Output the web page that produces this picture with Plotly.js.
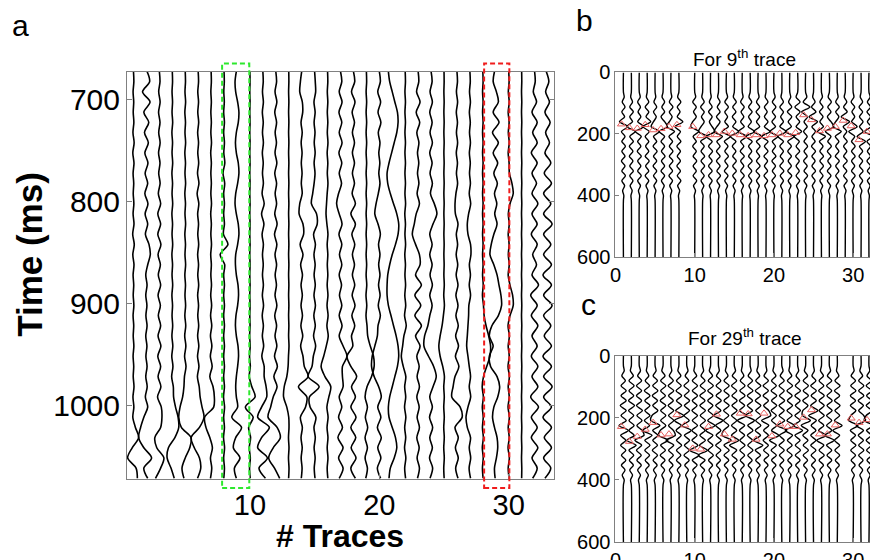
<!DOCTYPE html>
<html><head><meta charset="utf-8">
<script src="https://cdn.plot.ly/plotly-3.0.1.min.js"></script>
<style>html,body{margin:0;padding:0;background:#fff}#chart{width:870px;height:560px}</style>
</head><body><div id="chart"></div>
<script>
// ---------- Panel a: 33 traces, samples every 10 ms (offsets in 1/100 trace spacing)
const timeA = [672,682,692,702,712,722,732,742,752,762,772,782,792,802,812,822,832,842,852,862,872,882,892,902,912,922,932,942,952,962,972,982,992,1002,1012,1022,1032,1042,1052,1062,1072];
const tracesA = [
[0,3,-3,2,-2,3,-4,5,-5,4, -3,2,-2,3,-3,4,-6,6,-5,4, -3,2,-2,3,-3,2,-2,3,-3,2, -2,4,-4,3,-5,15,40,-10,-45,20,30],
[5,25,-30,28,-20,18,-15,15,-12,12, -10,10,-12,12,-10,10,-8,20,30,10, -5,5,-5,4,-4,5,-5,4,-4,5, -5,6,-8,10,-20,-45,-60,-20,40,-20,10],
[0,5,-5,6,-6,5,-5,6,-6,5, -5,6,-8,10,-12,10,-12,12,-10,8, -8,10,-10,8,-8,10,-10,12,-12,10, -10,12,-14,15,20,10,-35,-20,35,10,-30],
[0,2,-2,2,-2,3,-3,2,-2,3, -3,2,-2,3,-3,2,-2,3,-3,2, -2,3,-3,2,-2,3,-3,4,-4,5, -5,8,10,25,45,50,20,-30,-40,-10,15],
[0,2,-2,3,-3,2,-2,3,-3,2, -2,3,-3,2,-2,3,-3,2,-2,3, -3,2,-2,3,-3,4,-4,5,-5,6, -6,-10,-20,-40,-50,-30,45,35,0,-25,-10],
[0,3,-3,3,-3,4,-4,3,-3,4, -5,6,-8,5,-4,3,-3,4,-4,3, -3,4,-4,3,-3,4,-4,5,-5,6, -6,8,15,30,45,10,-55,-30,10,20,-5],
[0,2,-2,2,-2,2,-2,3,-3,2, -2,2,-2,3,-3,2,-2,3,-3,2, -2,3,-3,4,-4,5,-5,6,-6,8, -10,15,25,20,-50,-40,-10,10,-5,5,-5],
[0,2,-2,2,-3,3,-3,3,-2,6, -8,5,-3,3,-3,3,-5,30,-30,5, -3,3,-3,3,-3,3,-3,3,-3,3, -3,3,-4,4,-3,3,-4,4,-3,3,-2],
[-5,-15,-10,5,15,10,-5,-12,-5,10, 15,5,-10,-15,-5,10,15,5,-10,-12, -5,8,12,5,-8,-12,-5,8,12,5, -5,-10,-5,5,-40,35,-10,-28,23,-20,-5],
[0,1,-1,1,-1,1,-1,1,-1,1, -1,1,-1,1,-1,1,-1,1,-1,1, -1,1,-1,1,-1,1,-2,2,-3,3, -5,15,40,-35,25,-10,5,-5,3,-3,2],
[0,3,-3,4,-4,3,-3,4,-4,3, -3,4,-6,10,-10,8,-6,4,-3,3, -3,4,-4,5,-5,4,-4,6,-8,10, 10,25,30,-10,-40,50,-10,-40,35,-30,20],
[0,6,-6,8,-8,6,-5,5,-6,8, -8,6,-5,6,-8,10,-10,8,-6,6, -5,5,-6,8,-8,6,-6,8,-10,12, -15,10,-20,-40,-60,10,35,-20,-55,-10,30],
[0,1,-1,1,-1,1,-1,1,-1,1, -1,1,-1,1,-1,1,-1,1,-1,1, -1,1,-1,1,-1,1,-1,2,-2,-5, -15,-35,-40,-15,0,2,-2,2,-2,2,-1],
[0,-10,-15,5,8,-5,4,-4,3,-3, 3,-3,4,-15,-20,10,15,-12,10,-8, 6,-5,5,-5,6,-6,8,-8,10,20, 50,-25,40,30,-10,5,-5,4,-4,3,-3],
[0,5,8,-5,4,-4,3,-3,4,-4, 3,-4,-15,-25,15,20,-8,6,-5,4, -4,5,-5,6,-6,5,-8,8,-10,-20, -50,35,-40,-35,10,-5,5,-4,4,-3,3],
[0,2,-2,2,-2,2,-2,3,-3,2, -2,3,-3,-8,-12,-5,3,-3,2,-2, 2,-3,3,-4,4,-5,5,-10,-30,-50, -20,25,10,-5,4,-4,3,-3,3,-3,2],
[0,10,-10,12,-12,10,-10,12,-12,10, -10,8,-15,-30,-10,12,-12,10,-8,10, -10,8,-8,10,-10,12,-10,20,50,15, 15,20,-10,10,-15,15,-20,20,-15,20,-10],
[0,10,-15,12,-10,8,-8,8,-8,8, -8,8,-10,15,-20,15,-12,10,-8,8, -8,10,-10,12,-12,10,-15,-5,-50,-20, 25,-15,15,-20,20,-20,18,-18,20,-20,15],
[0,2,-2,2,-2,2,-2,2,-2,2, -2,2,-2,2,-2,2,-2,2,-2,2, -2,3,-3,3,-3,5,10,30,55,60, 40,5,-10,8,-8,10,-10,8,-10,8,-5],
[0,8,-12,10,-10,12,-8,5,-4,4, -4,5,-8,-25,-35,-10,8,-6,5,-5, 5,-6,6,-8,8,-10,-15,-35,-55,-60, -40,-5,15,-12,12,-15,15,-12,12,-15,10],
[-30,-20,0,20,40,45,35,15,-5,-25, -40,-35,-15,10,35,50,45,25,0,-20, -35,-40,-40,-30,-10,10,30,45,50,40, 20,0,-20,-30,-25,0,25,35,15,-15,-25],
[0,2,-2,2,-2,2,-2,2,-2,2, -2,2,-2,3,-3,2,-2,3,-3,2, -2,3,-3,4,-5,8,-10,-20,-30,-15, 5,-4,4,-5,5,-4,4,-5,5,-4,3],
[0,5,-12,15,-15,12,-10,6,-5,5, -5,6,-8,10,-15,-30,-45,-20,10,15, -20,25,-25,20,-25,25,-20,15,-10,8, -8,10,-10,8,-8,10,-10,8,-8,10,-5],
[0,8,-8,10,-10,8,-8,10,-10,8, -8,10,-5,25,45,15,-10,8,-10,8, -8,10,-10,8,-10,-25,-50,-55,-20,20, 40,15,-10,10,-12,12,-10,10,-12,12,-8],
[0,1,-1,1,-1,1,-1,1,-1,1, -1,1,-1,1,-1,1,-1,1,-1,1, -1,2,-2,3,-5,-15,-30,-40,-30,-10, 3,-2,2,-2,2,-2,2,-2,2,-2,1],
[0,4,-4,5,-5,4,-4,5,-5,4, -4,5,-8,-15,-12,8,-5,5,-6,6, -6,8,-8,8,-8,10,-10,12,-12,15, -15,-30,-40,25,40,-15,10,-12,10,-10,8],
[0,3,-3,4,-4,3,-3,4,-4,3, -3,4,-5,6,-10,-20,-15,5,8,-4, 4,-5,5,-8,-10,-15,-20,-25,-15,-5, 5,-5,6,-15,-30,-20,5,-5,6,-6,5],
[0,2,-2,2,-2,2,-2,2,-2,2, -2,2,-2,2,-2,2,-2,2,-2,2, -2,3,-3,5,10,25,45,60,55,30, 5,-5,4,-4,3,-3,4,-4,3,-3,2],
[-10,-20,5,20,-20,25,-25,20,-20,15, -15,12,-10,8,-8,10,-15,-35,-45,-15, 10,25,40,45,20,-30,-50,-20,-50,-40, 10,30,15,-15,-25,-10,10,15,5,-10,-5],
[0,3,-3,4,-4,3,-3,4,-4,3, 5,25,35,10,-3,4,-4,3,-3,4, -4,10,30,35,10,-5,5,-4,4,-5, 5,-4,4,-5,5,-4,4,-5,5,-4,3],
[0,1,-1,1,-1,1,-1,1,-1,1, -1,1,-1,1,-1,1,-1,1,-1,1, -1,1,-1,1,-1,1,-1,1,-1,1, -1,1,-1,1,-1,1,-1,1,-1,1,0],
[0,5,-10,15,-20,20,-15,20,-25,20, -20,15,-20,25,-20,20,-25,20,-15,15, -20,30,-30,20,-25,25,-20,20,-25,25, -20,25,-30,30,-25,20,-25,25,-20,20,-15],
[-10,10,-15,15,-20,20,-15,15,-20,25, -25,30,-30,25,-30,35,-30,25,-30,30, -35,30,-30,35,-30,25,-25,30,-35,30, -30,35,-30,30,-35,30,-25,30,-30,25,-20]
];

// ---------- Panel b: "For 9th trace" (trace 9 absent)
const timeB = [0,64,80,96,112,128,144,160,176,192,208,224,240,256,272,288,304,320,336,352,368,384,400,416,600];
const tracesB = [
[0,0,10,-15,20,-20,15,-50,55,-25,20,-20,25,-20,20,-25,20,-20,25,-20,15,-10,5,0,0],
[0,0,-8,15,-20,25,-20,15,-55,50,-20,25,-25,20,-25,20,-20,25,-20,20,-15,10,-5,0,0],
[0,0,12,-20,15,-15,20,-20,55,-50,25,-20,20,-25,25,-20,20,-20,25,-20,15,-10,5,0,0],
[0,0,-10,20,-25,20,-15,45,-55,25,-25,20,-20,20,-25,25,-20,20,-25,20,-15,10,-5,0,0],
[0,0,8,-15,20,-20,15,-20,-50,55,-20,20,-25,25,-20,20,-25,20,-20,20,-15,10,-5,0,0],
[0,0,-12,20,-15,20,-25,20,55,-50,20,-25,20,-20,25,-20,20,-25,20,-20,15,-10,5,0,0],
[0,0,10,-20,25,-20,15,-20,-55,45,-25,20,-20,25,-20,25,-20,20,-25,20,-15,10,-5,0,0],
[0,0,-15,25,-20,15,-20,50,-50,20,-20,25,-25,20,-20,20,-25,20,-20,25,-15,10,-5,0,0],
null,
[0,0,12,-25,20,-15,20,-25,-50,50,-20,20,-25,20,-20,25,-20,20,-20,25,-15,10,-5,0,0],
[0,0,-10,20,-25,20,-15,20,-20,-50,55,-25,20,-20,25,-20,25,-20,20,-20,15,-10,5,0,0],
[0,0,8,-15,20,-25,20,-15,20,55,-55,20,-25,25,-20,20,-25,20,-25,20,-15,10,-5,0,0],
[0,0,-10,20,-15,20,-25,20,-20,-55,50,-20,20,-25,20,-25,20,-20,25,-20,15,-10,5,0,0],
[0,0,15,-20,25,-20,15,-20,25,-55,50,-25,20,-20,25,-20,20,-25,20,-20,15,-10,5,0,0],
[0,0,-12,25,-20,20,-25,20,-20,55,-50,20,-25,20,-20,25,-20,25,-20,20,-15,10,-5,0,0],
[0,0,10,-20,25,-15,20,-20,25,-50,55,-20,20,-25,25,-20,20,-20,25,-20,15,-10,5,0,0],
[0,0,-15,20,-20,25,-20,15,-25,55,-55,25,-20,20,-20,25,-25,20,-20,20,-15,10,-5,0,0],
[0,0,12,-20,20,-25,20,-20,20,-55,50,-20,25,-20,20,-20,25,-25,20,-20,15,-10,5,0,0],
[0,0,-10,25,-20,15,-20,25,-20,50,-55,25,-20,25,-25,20,-20,20,-25,20,-15,10,-5,0,0],
[0,0,15,-20,25,-20,20,-25,20,-50,50,-20,20,-20,25,-25,20,-20,20,-25,15,-10,5,0,0],
[0,0,-10,20,-25,20,-15,20,-25,55,-50,20,-25,20,-20,20,-25,25,-20,20,-15,10,-5,0,0],
[0,0,12,-15,25,-30,25,-20,20,-55,55,-25,20,-25,20,-20,20,-25,25,-20,15,-10,5,0,0],
[0,0,-20,30,-35,30,-20,25,-20,50,-45,20,-20,25,-25,20,-20,20,-20,25,-15,10,-5,0,0],
[0,0,15,-30,55,-50,25,-20,20,-25,20,-20,25,-20,20,-25,20,-20,25,-20,15,-10,5,0,0],
[0,0,-10,20,-25,30,-55,50,-20,25,-20,20,-25,25,-20,20,-20,25,-20,20,-15,10,-5,0,0],
[0,0,12,-20,20,-25,20,-20,25,-50,50,-25,20,-20,25,-20,25,-20,20,-20,15,-10,5,0,0],
[0,0,-15,25,-20,20,-25,20,55,-50,20,-20,25,-25,20,-20,20,-25,20,-25,15,-10,5,0,0],
[0,0,10,-20,25,-20,20,-20,-55,50,-25,20,-20,20,-25,25,-20,20,-20,20,-15,10,-5,0,0],
[0,0,-12,20,-20,25,-50,55,-25,20,-20,25,-20,20,-20,25,-25,20,-20,25,-15,10,-5,0,0],
[0,0,10,-25,20,-15,20,-20,50,-55,20,-20,25,-20,25,-20,20,-20,25,-20,15,-10,5,0,0],
[0,0,-10,20,-25,20,-20,25,-20,25,-50,55,-20,20,-25,20,-20,25,-20,20,-15,10,-5,0,0],
[0,0,15,-20,20,-25,20,-20,25,-55,50,-25,20,-20,20,-25,20,-20,25,-20,15,-10,5,0,0],
[0,0,-10,20,-25,20,-25,20,-20,50,-55,20,-25,20,-20,20,-25,20,-20,20,-15,10,-5,0,0]
];
const picksB = [168,180,182,170,187,183,176,170,null,176,206,203,203,192,198,203,206,203,206,203,198,203,196,138,154,190,182,176,156,174,219,192,187];

// ---------- Panel c: "For 29th trace" (trace 29 absent)
const timeC = [0,32,48,64,80,96,112,128,144,160,176,192,208,224,240,256,272,288,304,320,336,352,368,384,400,416,600];
const tracesC = [
[0,0,10,-20,25,-30,35,-30,35,-40,35,-30,35,-55,60,-35,30,-35,30,-25,30,-25,20,-15,10,0,0],
[0,0,-12,25,-30,35,-30,30,-35,40,-35,30,-30,35,-30,35,-55,60,-30,30,-25,25,-20,15,-10,0,0],
[0,0,15,-20,30,-35,30,-35,30,-35,40,-30,35,-30,35,60,-55,30,-35,25,-30,25,-20,15,-10,0,0],
[0,0,-10,20,-25,30,-35,35,-30,35,-30,35,-35,30,-55,60,-30,35,-30,30,-25,25,-20,15,-10,0,0],
[0,0,12,-25,30,-30,35,-35,30,-30,35,-40,-55,60,-30,35,-30,30,-35,30,-25,25,-20,15,-10,0,0],
[0,0,-15,25,-30,35,-30,30,-35,35,-30,35,-30,35,-35,-55,60,-30,30,-35,25,-25,20,-15,10,0,0],
[0,0,10,-20,30,-35,35,-30,30,-35,35,-30,35,-30,30,55,-60,35,-30,30,-25,25,-20,15,-10,0,0],
[0,0,-12,25,-30,30,-35,35,-30,35,-40,60,-55,30,-35,30,-30,35,-30,25,-30,25,-20,15,-10,0,0],
[0,0,15,-20,25,-35,30,-30,35,-30,35,-35,30,-60,55,-30,35,-30,30,-35,30,-25,20,-15,10,0,0],
[0,0,-10,25,-30,35,-30,35,-30,30,-35,35,-30,35,-35,30,-35,40,-60,55,-30,30,-25,15,-10,0,0],
[0,0,12,-20,30,-30,35,-35,30,-35,35,-30,35,-30,30,-35,35,-40,60,-55,30,-30,25,-15,10,0,0],
[0,0,-15,25,-30,35,-35,30,-35,30,-30,35,-35,55,-60,30,-35,30,-30,35,-25,25,-20,15,-10,0,0],
[0,0,10,-25,30,-30,35,-30,35,-35,30,-60,55,-35,30,-30,35,-35,30,-30,25,-25,20,-15,10,0,0],
[0,0,-12,20,-30,35,-30,35,-30,35,-35,30,-35,30,-35,-55,60,-30,35,-30,30,-25,20,-15,10,0,0],
[0,0,15,-25,30,-35,30,-30,35,-30,35,-35,30,-35,30,-35,55,-60,30,-30,35,-25,20,-15,10,0,0],
[0,0,-10,20,-25,35,-30,35,-35,30,-35,55,-60,30,-35,30,-30,35,-30,30,-25,25,-20,15,-10,0,0],
[0,0,12,-25,30,-30,35,-35,30,-35,30,-60,55,-30,35,-35,30,-30,35,-30,25,-25,20,-15,10,0,0],
[0,0,-15,20,-30,35,-35,30,-35,35,-30,35,-30,35,-35,30,-55,60,-35,30,-30,25,-20,15,-10,0,0],
[0,0,10,-25,30,-35,30,-35,30,-30,35,60,-55,35,-30,30,-35,30,-30,35,-25,25,-20,15,-10,0,0],
[0,0,-12,25,-30,30,-35,35,-30,35,-35,30,-30,35,-30,60,-55,30,-35,30,-30,25,-20,15,-10,0,0],
[0,0,15,-20,30,-35,30,-30,35,-35,30,-35,35,-55,60,-30,30,-35,30,-30,25,-25,20,-15,10,0,0],
[0,0,-10,25,-30,35,-35,30,-30,35,-35,30,-35,60,-55,35,-30,30,-35,30,-25,25,-20,15,-10,0,0],
[0,0,12,-20,25,-30,35,-35,30,-30,35,-35,30,-55,60,-35,30,-30,35,-30,30,-25,20,-15,10,0,0],
[0,0,-15,25,-30,35,-30,35,-35,30,-35,-40,60,-55,30,-35,30,-30,35,-30,25,-25,20,-15,10,0,0],
[0,0,10,-20,30,-35,35,-30,35,-35,55,-60,35,-30,30,-35,30,-35,30,-30,25,-25,20,-15,10,0,0],
[0,0,-12,25,-30,30,-35,35,-30,35,-30,35,-35,30,-35,55,-60,30,-30,35,-30,25,-20,15,-10,0,0],
[0,0,15,-25,30,-35,30,-30,35,-30,35,-35,30,-35,30,-55,60,-35,30,-30,30,-25,20,-15,10,0,0],
[0,0,-10,20,-30,35,-35,30,-35,35,-30,30,-35,60,-55,30,-35,30,-30,30,-25,25,-20,15,-10,0,0],
null,
[0,0,12,-25,30,-30,35,-35,30,-35,35,-30,-55,60,-35,30,-30,35,-30,30,-25,25,-20,15,-10,0,0],
[0,0,-15,20,-30,35,-30,35,-35,30,-30,35,55,-60,30,-35,30,-30,35,-30,25,-25,20,-15,10,0,0],
[0,0,10,-25,30,-35,35,-30,30,-35,35,-35,-60,55,-30,30,-35,30,-30,35,-25,25,-20,15,-10,0,0],
[0,0,-12,20,-25,30,-35,35,-30,30,-35,30,60,-55,35,-30,30,-35,30,-30,25,-25,20,-15,10,0,0]
];
const picksC = [228,276,260,237,215,255,252,190,223,298,301,228,188,252,269,185,187,269,185,258,220,228,228,198,174,252,252,223,null,201,215,206,205];

// ---------- Tick labels and highlighted trace windows (in trace numbers)
const xTicksA = [10,20,30];
const yTicksA = [700,800,900,1000];
const xTicksBC = [0,10,20,30];
const yTicksBC = [0,200,400,600];
const boxGreen = [7.85, 9.95];
const boxRed = [28.1, 30.05];

const FONT = 'Liberation Sans, Arial, Helvetica, sans-serif';
const domA = [0.14598, 0.63678], rangeA = [0.5, 33.5];

function wiggles(rows, times, xa, ya, w) {
  const out = [];
  rows.forEach((vals, i) => {
    if (!vals) return;
    const n = i + 1;
    out.push({type:'scatter', mode:'lines', x: vals.map(v => n + v / 100), y: times,
      xaxis: xa, yaxis: ya, line:{color:'#000', width:w, shape:'spline', smoothing:0.9},
      hoverinfo:'skip', showlegend:false});
  });
  return out;
}
function picks(vals, xa, ya) {
  const xs = [], ys = [];
  vals.forEach((t, i) => { if (t !== null) { xs.push(i + 1 - 0.25); ys.push(t); } });
  return {type:'scatter', mode:'markers', x: xs, y: ys, xaxis: xa, yaxis: ya,
    marker:{symbol:'triangle-up-open', size:7, color:'#e8605f', line:{width:1}},
    hoverinfo:'skip', showlegend:false};
}
// x data value of panel a -> paper fraction (so the boxes can extend past the plot frame)
function paperX(v) { return domA[0] + (v - rangeA[0]) / (rangeA[1] - rangeA[0]) * (domA[1] - domA[0]); }
function boxShape(b, color) {
  return {type:'rect', xref:'paper', yref:'paper', x0:paperX(b[0]), x1:paperX(b[1]), y0:0.1286, y1:0.8866,
    line:{color:color, width:2, dash:'5px,3px'}, fillcolor:'rgba(0,0,0,0)', layer:'above'};
}

const data = [].concat(
  wiggles(tracesA, timeA, 'x', 'y', 1.6),
  wiggles(tracesB, timeB, 'x2', 'y2', 1.4),
  wiggles(tracesC, timeC, 'x3', 'y3', 1.4),
  [picks(picksB, 'x2', 'y2'), picks(picksC, 'x3', 'y3')]
);

const axBase = {showgrid:false, zeroline:false, showline:true, linecolor:'#808080', linewidth:1,
  ticks:'inside', ticklen:5, tickcolor:'#808080', tickfont:{family:FONT, size:30, color:'#000'}};
const axSmall = Object.assign({}, axBase, {tickfont:{family:FONT, size:20, color:'#000'}, ticklen:4});

const layout = {
  width:870, height:560, margin:{l:0, r:0, t:0, b:0},
  paper_bgcolor:'#fff', plot_bgcolor:'#fff', showlegend:false,
  font:{family:FONT, color:'#000'},
  xaxis: Object.assign({}, axBase, {domain:domA, range:rangeA, tickvals:xTicksA, mirror:true, anchor:'y', tickfont:{family:FONT, size:29, color:'#000'}}),
  yaxis: Object.assign({}, axBase, {domain:[0.14411, 0.87143], range:[1073, 672.5], tickvals:yTicksA, mirror:'ticks', anchor:'x'}),
  xaxis2: Object.assign({}, axSmall, {domain:[0.70747, 1], range:[0, 32.13], tickvals:xTicksBC, mirror:true, anchor:'y2'}),
  yaxis2: Object.assign({}, axSmall, {domain:[0.54107, 0.87054], range:[600, 0], tickvals:yTicksBC, anchor:'x2'}),
  xaxis3: Object.assign({}, axSmall, {domain:[0.70747, 1], range:[0, 32.13], tickvals:xTicksBC, mirror:true, anchor:'y3'}),
  yaxis3: Object.assign({}, axSmall, {domain:[0.03214, 0.36429], range:[600, 0], tickvals:yTicksBC, anchor:'x3'}),
  shapes: [boxShape(boxGreen, '#2ee82e'), boxShape(boxRed, '#f01c1c')],
  annotations: [
    {text:'a', xref:'paper', yref:'paper', x:0.023, y:0.955, showarrow:false, xanchor:'center', yanchor:'middle', font:{family:FONT, size:30}},
    {text:'b', xref:'paper', yref:'paper', x:0.6713, y:0.9625, showarrow:false, xanchor:'center', yanchor:'middle', font:{family:FONT, size:30}},
    {text:'c', xref:'paper', yref:'paper', x:0.6759, y:0.4554, showarrow:false, xanchor:'center', yanchor:'middle', font:{family:FONT, size:30}},
    {text:'For 9<sup>th</sup> trace', xref:'paper', yref:'paper', x:0.8563, y:0.8964, showarrow:false, xanchor:'center', yanchor:'middle', font:{family:FONT, size:19}},
    {text:'For 29<sup>th</sup> trace', xref:'paper', yref:'paper', x:0.8563, y:0.3982, showarrow:false, xanchor:'center', yanchor:'middle', font:{family:FONT, size:19}},
    {text:'Time (ms)', xref:'paper', yref:'paper', x:0.0345, y:0.545, textangle:-90, showarrow:false, xanchor:'center', yanchor:'middle', font:{family:FONT, size:35, weight:'bold'}},
    {text:'# Traces', xref:'paper', yref:'paper', x:0.391, y:0.042, showarrow:false, xanchor:'center', yanchor:'middle', font:{family:FONT, size:32, weight:'bold'}}
  ]
};

Plotly.newPlot('chart', data, layout, {staticPlot:true, displayModeBar:false});
</script>
</body></html>
